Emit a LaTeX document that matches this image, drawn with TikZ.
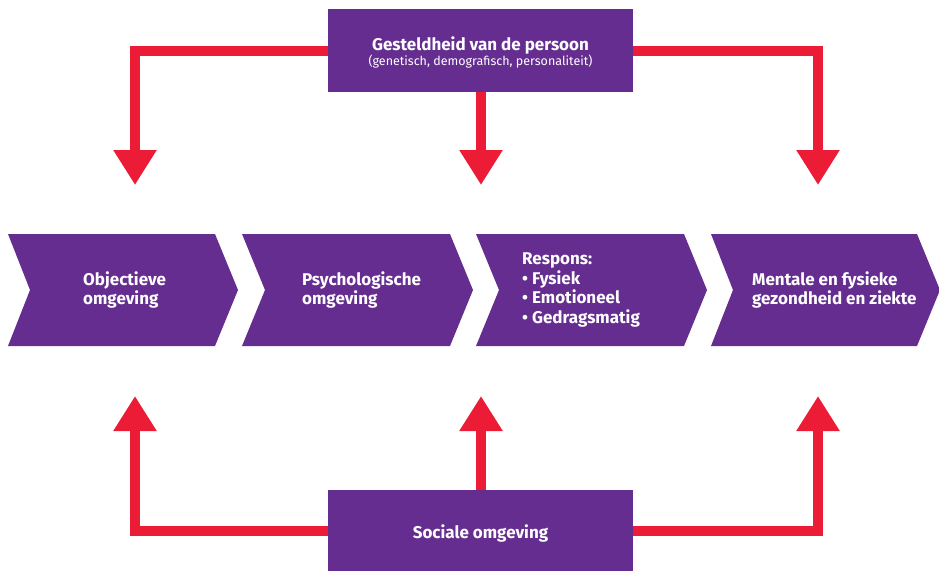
\documentclass[tikz,border=0pt]{standalone}
\usepackage{fontspec}
\setmainfont{Fira Sans}
\usetikzlibrary{arrows.meta}
\definecolor{pur}{RGB}{101,45,144}
\definecolor{rd}{RGB}{237,28,54}
\tikzset{
  chev/.style={fill=pur},
  box/.style={fill=pur, draw=none, inner sep=0pt, text=white, align=center},
  lbl/.style={anchor=west, inner sep=0pt, text=white, align=left, font=\fontsize{17}{19.5}\selectfont\bfseries},
  conn/.style={draw=rd, line width=10pt, line join=miter, -{Triangle[width=41pt,length=35pt]}}
}
\begin{document}
\begin{tikzpicture}[x=1pt,y=-1pt]
\useasboundingbox (0,0) rectangle (939,571);
% boxes
\node[box, minimum width=305pt, minimum height=83pt] (top) at (480.5,50.5) {};
\node[text=white, inner sep=0pt, anchor=base, font=\fontsize{17}{19}\selectfont\bfseries] (toptitle) at (480.5,50) {Gesteldheid van de persoon};
\node[text=white, inner sep=0pt, anchor=base, font=\fontsize{12.5}{14}\selectfont] (topsub) at (480.5,65) {(genetisch, demografisch, personaliteit)};
\node[box, minimum width=305pt, minimum height=81pt] (bot) at (480.5,530.5) {};
\node[text=white, inner sep=0pt, anchor=base, font=\fontsize{17}{19}\selectfont\bfseries] (bottitle) at (480.5,538) {Sociale omgeving};
% chevrons
\fill[chev] (8,234) -- (215,234) -- (238,290) -- (215,346) -- (8,346) -- (30,290) -- cycle;
\fill[chev] (242,234) -- (450,234) -- (473,290) -- (450,346) -- (242,346) -- (265,290) -- cycle;
\fill[chev] (476,234) -- (684,234) -- (707,290) -- (684,346) -- (476,346) -- (499,290) -- cycle;
\fill[chev] (711,234) -- (917,234) -- (940,290) -- (917,346) -- (711,346) -- (733,290) -- cycle;
\node[lbl] (c1) at (83,290) {Objectieve\\omgeving};
\node[lbl] (c2) at (302,290) {Psychologische\\omgeving};
\node[lbl] (c3) at (522,290) {Respons:\\• Fysiek\\• Emotioneel\\• Gedragsmatig};
\node[lbl] (c4) at (752,290) {Mentale en fysieke\\gezondheid en ziekte};
% connector ends
\coordinate (t1) at (135,185);
\coordinate (t2) at (481,185);
\coordinate (t3) at (818,185);
\coordinate (b1) at (135,396);
\coordinate (b2) at (481,396);
\coordinate (b3) at (818,396);
\draw[conn] (top.west) -| (t1);
\draw[conn] (top.south -| t2) -- (t2);
\draw[conn] (top.east) -| (t3);
\draw[conn] (bot.west) -| (b1);
\draw[conn] (bot.north -| b2) -- (b2);
\draw[conn] (bot.east) -| (b3);
\end{tikzpicture}
\end{document}
